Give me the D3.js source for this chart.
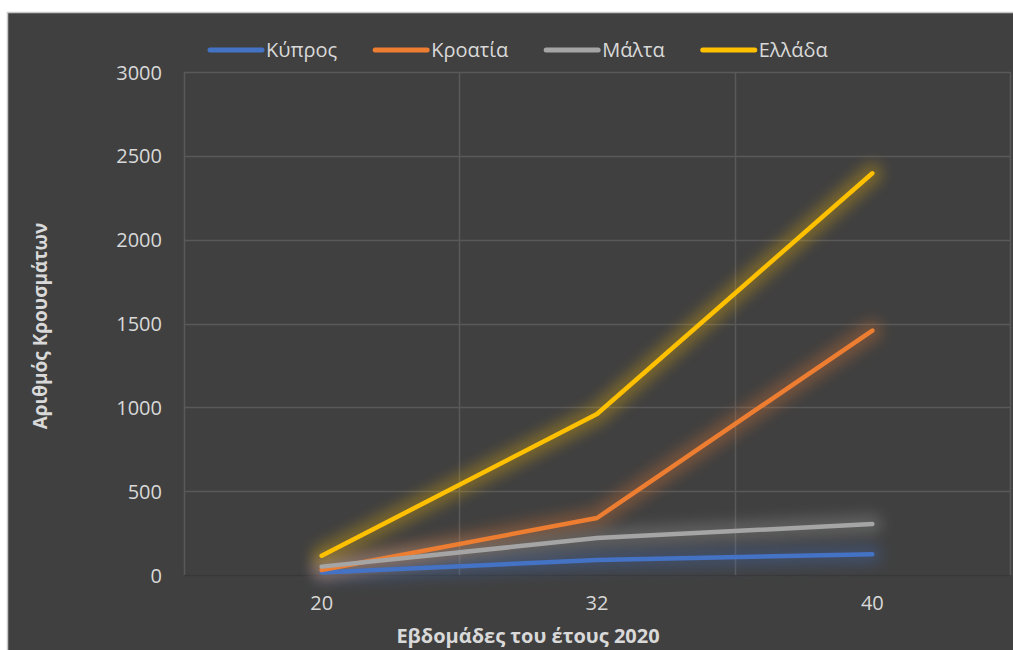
<!DOCTYPE html>
<html lang="el">
<head>
    <meta charset="UTF-8">
    <title>Κρούσματα</title>
    <script src="https://d3js.org/d3.v7.min.js"></script>
    <style>
        body{
            margin: 0;
            background: white;
        }
        #canvas{
            display: block;
        }
        text{
            font-family: "Open Sans", sans-serif;
            fill: #d9d9d9;
        }
    </style>
</head>
<body>
<svg id="canvas" width="1013" height="650"></svg>
<script>
    // data
    let weeks = ["20", "32", "40"]
    let countries = ["Κύπρος", "Κροατία", "Μάλτα", "Ελλάδα"]
    let cyprus = [15, 90, 124]
    let croatia = [30, 340, 1458]
    let malta = [50, 220, 304]
    let greece = [115, 960, 2396]
    let colors = ["#4472c4", "#ed7d31", "#a5a5a5", "#ffc000"]
    let yTicks = [0, 500, 1000, 1500, 2000, 2500, 3000]

    let series = [cyprus, croatia, malta, greece]

    let svg = d3.select('svg')

    // frame
    svg.append('rect')
        .attr("x", 7.5).attr("y", 12.5)
        .attr("width", 1020).attr("height", 650)
        .attr("fill", "#404040")
        .attr("stroke", "#c8c8c8")
        .attr("stroke-width", 1.5)

    let plotL = 184, plotR = 1010, plotT = 72, plotB = 575

    let x = d3.scaleBand().domain(weeks).range([plotL, plotR])
    let y = d3.scaleLinear().domain([0, 3000]).range([plotB, plotT])

    let defs = svg.append('defs')
    defs.append('filter')
        .attr("id", "glow")
        .attr("filterUnits", "userSpaceOnUse")
        .attr("x", 0).attr("y", 0)
        .attr("width", 1013).attr("height", 650)
        .append('feGaussianBlur')
        .attr("stdDeviation", 7)

    // grid
    let grid = svg.append('g')
    grid.selectAll('line.h')
        .data(yTicks)
        .enter()
        .append('line')
        .attr("class", "h")
        .attr("x1", plotL).attr("x2", plotR)
        .attr("y1", d => Math.round(y(d)) + 0.5)
        .attr("y2", d => Math.round(y(d)) + 0.5)
        .attr("stroke", d => d === 0 ? "#383838" : "#595959")
        .attr("stroke-width", 1.5)
    let vx = weeks.map(w => x(w)).concat([plotR])
    grid.selectAll('line.v')
        .data(vx)
        .enter()
        .append('line')
        .attr("class", "v")
        .attr("x1", d => Math.round(d) + 0.5).attr("x2", d => Math.round(d) + 0.5)
        .attr("y1", plotT).attr("y2", plotB)
        .attr("stroke", "#595959")
        .attr("stroke-width", 1.5)

    // y axis labels
    let yAxis = svg.append('g')
        .attr("transform", "translate(" + (plotL - 22) + ",0)")
        .call(d3.axisLeft(y).tickValues(yTicks).tickFormat(d3.format("d")).tickSize(0).tickPadding(0))
    yAxis.select('.domain').remove()
    yAxis.selectAll('text')
        .attr("font-size", "20px")
        .attr("font-family", "'Open Sans', sans-serif")
        .attr("fill", "#d9d9d9")
        .attr("dy", "0.35em")

    // x axis labels
    let xAxis = svg.append('g')
        .attr("transform", "translate(0," + (plotB + 20) + ")")
        .call(d3.axisBottom(x).tickSize(0).tickPadding(0))
    xAxis.select('.domain').remove()
    xAxis.selectAll('text')
        .attr("font-size", "20px")
        .attr("font-family", "'Open Sans', sans-serif")
        .attr("fill", "#d9d9d9")
        .attr("dy", "0.75em")

    // lines
    let line = d3.line()
        .x((d, i) => x(weeks[i]) + x.bandwidth() / 2)
        .y(d => y(d))

    let lines = svg.append('g')
    series.forEach(function (s, i) {
        lines.append('path')
            .attr("d", line(s))
            .attr("fill", "none")
            .attr("stroke", colors[i])
            .attr("stroke-width", 20)
            .attr("stroke-linecap", "round")
            .attr("stroke-linejoin", "round")
            .attr("opacity", 0.3)
            .attr("filter", "url(#glow)")
    })
    series.forEach(function (s, i) {
        lines.append('path')
            .attr("d", line(s))
            .attr("fill", "none")
            .attr("stroke", colors[i])
            .attr("stroke-width", 4.5)
            .attr("stroke-linecap", "round")
            .attr("stroke-linejoin", "round")
    })

    // legend
    let legend = svg.append('g').attr("transform", "translate(0,50)")
    let lx = 210
    countries.forEach(function (c, i) {
        let item = legend.append('g').attr("transform", "translate(" + lx + ",0)")
        item.append('line')
            .attr("x1", 0).attr("x2", 52)
            .attr("stroke", colors[i])
            .attr("stroke-width", 5)
            .attr("stroke-linecap", "round")
        let t = item.append('text')
            .attr("x", 56)
            .attr("dy", "0.35em")
            .attr("font-size", "20px")
            .text(c)
        lx += 56 + t.node().getComputedTextLength() + 38
    })

    // axis titles
    svg.append('text')
        .attr("transform", "translate(47,326) rotate(-90)")
        .attr("text-anchor", "middle")
        .attr("font-size", "19px")
        .attr("font-weight", "bold")
        .text("Αριθμός Κρουσμάτων")
    svg.append('text')
        .attr("x", 528)
        .attr("y", 643)
        .attr("text-anchor", "middle")
        .attr("font-size", "20px")
        .attr("font-weight", "bold")
        .text("Εβδομάδες του έτους 2020")
</script>
</body>
</html>
